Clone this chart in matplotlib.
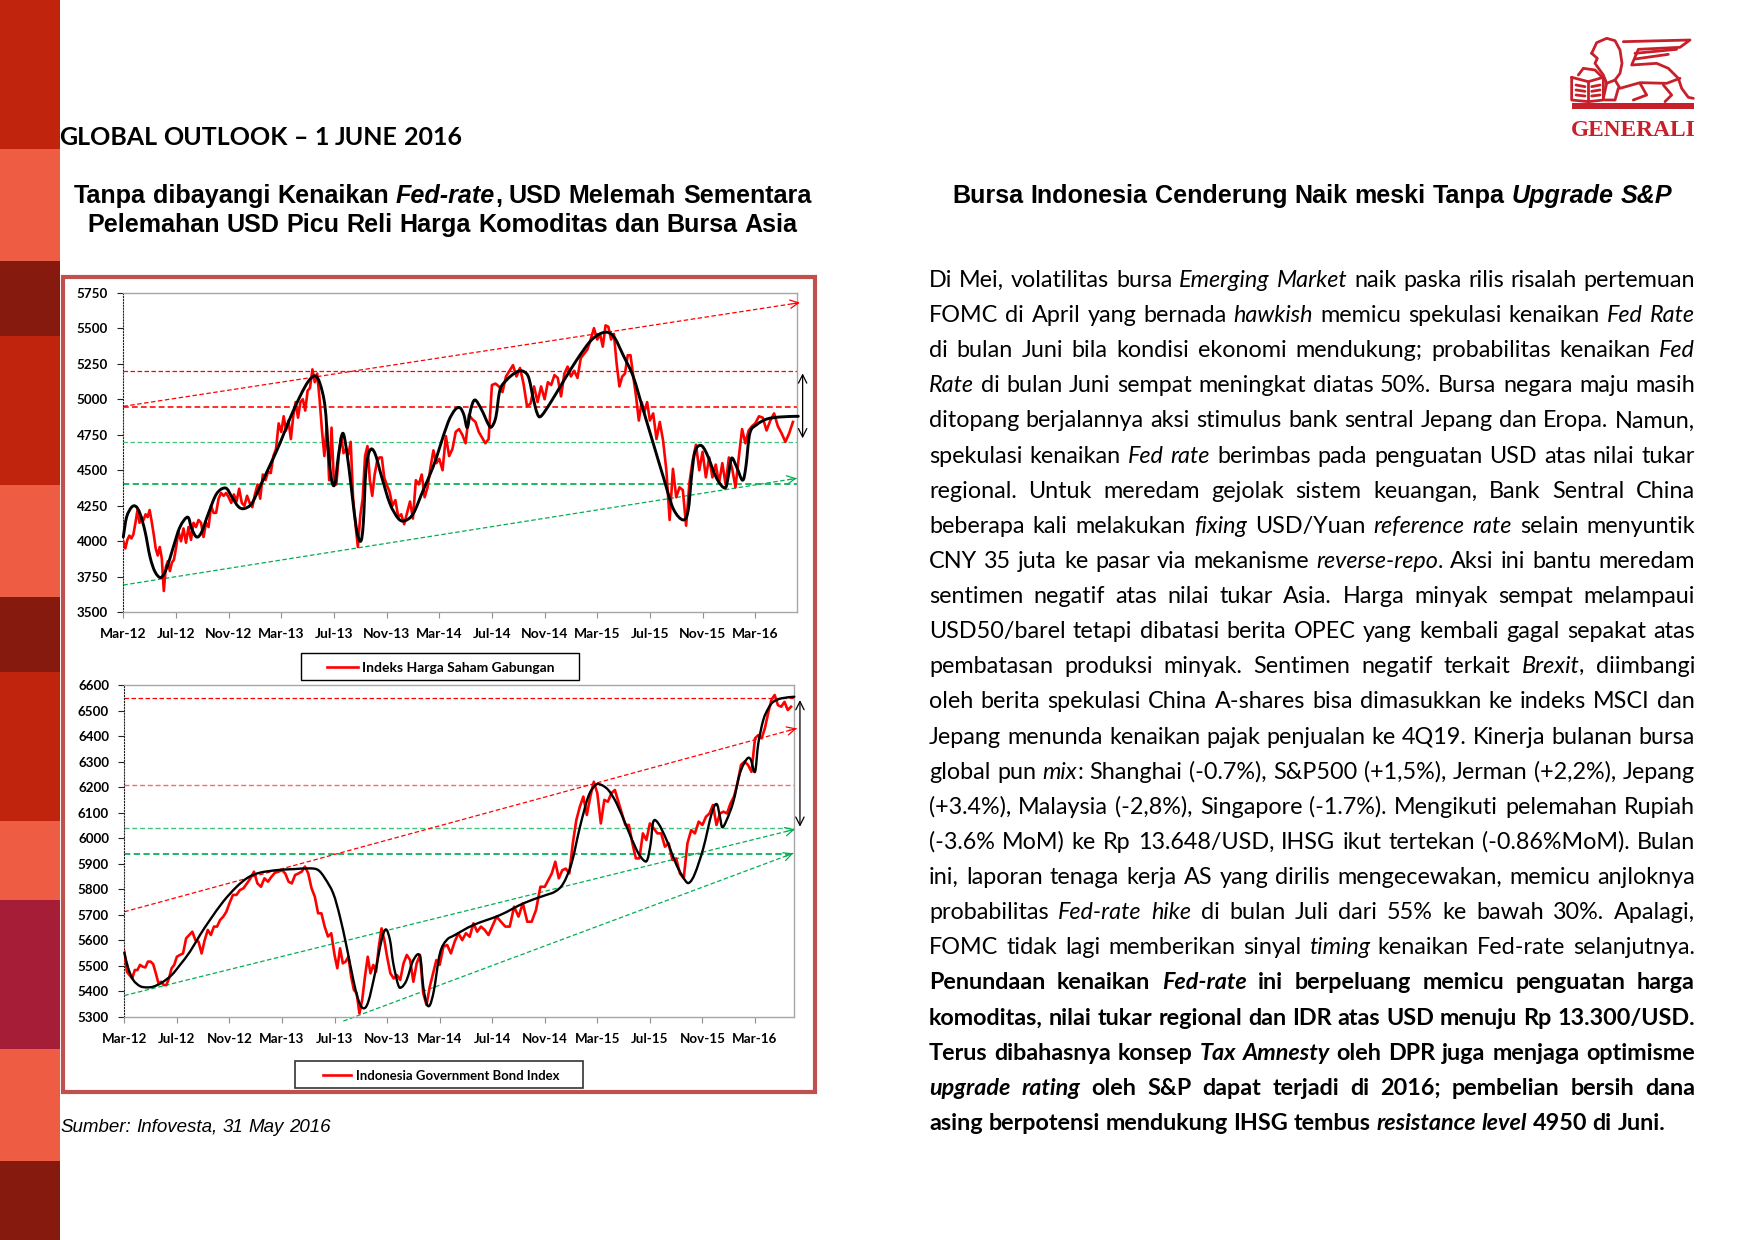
import numpy as np
import pandas as pd
import matplotlib
matplotlib.use('Agg')
import matplotlib.pyplot as plt
import matplotlib.dates as mdates
from matplotlib.font_manager import FontProperties
from matplotlib.patches import Rectangle, PathPatch, Polygon
from matplotlib.path import Path

# ---------- data ----------
tick_months = list(range(0, 49, 4))
tick_labels = ['Mar-12', 'Jul-12', 'Nov-12', 'Mar-13', 'Jul-13', 'Nov-13', 'Mar-14', 'Jul-14', 'Nov-14', 'Mar-15', 'Jul-15', 'Nov-15', 'Mar-16']
end_months_ihsg = 51.15
end_months_bond = 50.99

# red series, one list per 4 month tick interval
ihsg_segments = [
    [4000, 3950, 4010, 4040, 4020, 4050, 4130, 4220, 4130, 4170, 4150, 4190, 4170, 4220, 4140, 4050, 3950, 3900, 3960, 3880, 3650, 3820, 3860, 3790, 3850, 3870],
    [3950, 4070, 4000, 4090, 3990, 4100, 4010, 4130, 4100, 4150, 4130, 4030, 4130, 4100, 4250, 4200, 4200, 4300, 4340, 4320, 4340],
    [4310, 4270, 4330, 4280, 4370, 4270, 4250, 4320, 4270, 4240, 4330, 4400, 4300, 4470, 4430, 4490, 4480, 4600, 4650, 4830],
    [4770, 4880, 4780, 4850, 4720, 4880, 4980, 4870, 4980, 5000, 4920, 5060, 5080, 5210, 5120, 5180, 5000, 4780, 4600, 4820, 4430, 4800],
    [4410, 4400, 4600, 4740, 4620, 4650, 4610, 4700, 4300, 4120, 3960, 4180, 4300, 4600, 4670, 4430, 4320, 4470, 4560, 4590, 4590, 4450],
    [4400, 4350, 4250, 4290, 4170, 4190, 4120, 4200, 4280, 4160, 4430, 4400, 4470, 4310, 4380, 4520, 4640, 4550],
    [4580, 4500, 4740, 4600, 4650, 4770, 4790, 4750, 4690, 4890, 4860, 4840, 4770, 4730, 4690, 4720],
    [5100, 5110, 5090, 5050, 5160, 5200, 5240, 5160, 5220, 5110, 4950, 4970, 5090, 4980, 5090],
    [5000, 5120, 5100, 5170, 5150, 5020, 5180, 5230, 5160, 5200, 5150, 5290, 5320, 5350, 5420, 5500],
    [5420, 5460, 5370, 5520, 5510, 5420, 5460, 5250, 5090, 5160, 5180, 5310, 5310, 5160, 5020, 4850, 4980, 4910, 4980],
    [4850, 4900, 4720, 4840, 4710, 4500, 4150, 4510, 4310, 4380, 4360, 4110, 4410, 4570, 4680, 4500],
    [4630, 4450, 4590, 4450, 4540, 4410, 4550, 4400, 4590, 4510, 4380, 4590, 4790, 4690, 4780, 4810],
    [4830, 4880, 4870, 4780, 4850, 4900, 4810, 4760, 4700, 4760, 4840],
]
bond_segments = [
    [5556, 5477, 5464, 5451, 5484, 5484, 5504, 5497, 5494, 5517, 5517, 5507, 5471, 5432, 5438, 5425, 5425, 5451, 5491, 5504],
    [5536, 5543, 5549, 5608, 5621, 5634, 5601, 5595, 5549, 5601, 5641, 5621, 5654, 5654, 5680, 5693, 5712],
    [5745, 5778, 5778, 5797, 5804, 5823, 5843, 5869, 5823, 5810, 5843, 5830, 5849, 5865, 5869],
    [5875, 5862, 5830, 5823, 5856, 5862, 5869, 5889, 5862, 5804, 5771, 5706, 5706, 5654, 5615, 5628],
    [5543, 5491, 5569, 5510, 5517, 5536, 5458, 5406, 5393, 5314, 5367, 5458, 5536, 5471, 5504, 5477, 5575, 5647, 5601],
    [5536, 5471, 5451, 5464, 5445, 5510, 5543, 5523, 5438, 5510, 5543, 5393, 5347, 5419, 5471, 5523],
    [5504, 5575, 5582, 5549, 5595, 5628, 5601, 5628, 5614, 5667, 5634, 5654, 5641, 5621],
    [5654, 5693, 5673, 5654, 5654, 5732, 5693, 5745, 5673, 5673, 5719, 5810],
    [5810, 5836, 5862, 5908, 5843, 5875, 5881, 5862, 5980, 6071, 6123, 6163, 6091, 6163, 6221],
    [6176, 6058, 6150, 6143, 6176, 6189, 6143, 6097, 6052, 6052, 5980, 5921, 5921, 6019, 5993],
    [6058, 6039, 6019, 6019, 5967, 5980, 5915, 5921, 5862, 5843, 5980, 6032, 6019, 6065],
    [6052, 6084, 6097, 6130, 6052, 6097, 6104, 6097, 6136, 6163, 6215, 6287, 6300, 6287, 6260],
    [6391, 6404, 6391, 6430, 6489, 6541, 6561, 6521, 6515, 6534, 6502, 6515],
]

# black hand drawn trend curves
ihsg_trend_m = [0, .25, .63, .96, 1.27, 1.65, 2.03, 2.41, 2.86, 3.29, 3.8, 4.3, 4.89, 5.19, 5.57, 5.95, 6.46, 7.09, 7.77, 8.23, 8.73, 9.16, 9.75, 10.38, 11.14, 11.9, 12.66, 13.42, 14.05, 14.56, 14.94, 15.32, 15.57, 15.82, 16.08, 16.33, 16.66, 16.96, 17.34, 17.72, 18.03, 18.23, 18.43, 18.73, 19.11, 19.62, 20.25, 20.89, 21.39, 22.03, 22.78, 23.54,
                24.05, 24.68, 25.19, 25.57, 25.87, 26.13, 26.38, 26.71, 27.22, 27.72, 27.97, 28.3, 28.61, 29.11, 29.75, 30.25, 30.76, 31.14, 31.44, 31.72, 32.41, 33.42, 34.43, 35.44, 36.2, 36.84, 37.34, 37.97, 38.73, 39.49, 40.25, 41.01, 41.77, 42.53, 42.91, 43.16, 43.42, 43.85, 44.3, 45.06, 45.7, 45.95, 46.2, 46.58, 47.04, 47.29, 47.59, 48.1, 48.86, 49.87, 51.27]
ihsg_trend_v = [4030, 4170, 4240, 4245, 4195, 4070, 3890, 3785, 3745, 3810, 3960, 4100, 4170, 4090, 4030, 4065, 4195, 4335, 4375, 4315, 4245, 4230, 4265, 4385, 4535, 4690, 4865, 5020, 5125, 5165, 5110, 4950, 4640, 4430, 4405, 4595, 4760, 4640, 4360, 4080, 4000, 4125, 4500, 4640, 4620, 4455, 4265, 4160, 4145, 4195, 4360, 4525,
                4666, 4840, 4925, 4940, 4890, 4800, 4925, 4995, 4925, 4825, 4805, 4875, 5065, 5135, 5185, 5200, 5160, 5005, 4900, 4880, 4970, 5125, 5275, 5405, 5460, 5470, 5430, 5310, 5160, 4925, 4690, 4455, 4230, 4150, 4220, 4455, 4630, 4675, 4620, 4445, 4375, 4455, 4585, 4525, 4430, 4525, 4760, 4820, 4860, 4875, 4880]
bond_trend_m = [0, .3, .68, 1.19, 1.7, 2.21, 2.84, 3.6, 4.24, 5.0, 5.76, 6.52, 7.53, 8.55, 9.44, 10.32, 11.6, 12.86, 14.13, 14.76, 15.27, 15.9, 16.41, 16.92, 17.43, 17.81, 18.19, 18.57, 19.08, 19.58, 19.91, 20.22, 20.47, 20.85, 21.11, 21.49, 22.0, 22.5, 22.75, 23.01, 23.26, 23.57, 24.02,
                24.53, 25.16, 26.56, 28.59, 30.37, 31.89, 32.78, 33.41, 34.04, 34.68, 35.31, 35.82, 36.2, 36.83, 37.47, 38.23, 38.99, 39.5, 39.8, 40.06, 40.26, 40.64, 41.27, 42.03, 42.67, 43.0, 43.43, 44.06, 44.7, 45.08, 45.33, 45.51, 45.84, 46.35, 46.85, 47.36, 47.67, 48.0, 48.25, 48.63, 49.01, 49.39, 50.03, 50.99]
bond_trend_v = [5552, 5491, 5445, 5421, 5416, 5419, 5434, 5464, 5504, 5556, 5621, 5680, 5752, 5810, 5847, 5865, 5875, 5879, 5882, 5875, 5843, 5784, 5693, 5575, 5445, 5367, 5334, 5360, 5471, 5601, 5643, 5601, 5510, 5425, 5417, 5445, 5523, 5539, 5419, 5353, 5347, 5406, 5549,
                5601, 5621, 5660, 5699, 5745, 5774, 5791, 5823, 5902, 6045, 6163, 6206, 6211, 6189, 6136, 6045, 5954, 5915, 5915, 5980, 6065, 6058, 5993, 5895, 5836, 5826, 5862, 5960, 6097, 6134, 6084, 6043, 6071, 6143, 6254, 6309, 6309, 6260, 6371, 6463, 6508, 6534, 6548, 6554]

# support / resistance levels: value, colour, line width, alpha
ihsg_levels = [(5196, '#FF0000', 0.9, 1), (4945, '#FF0000', 1.15, 1), (4700, '#00B050', 0.9, .75), (4400, '#00B050', 1.25, 1)]
bond_levels = [(6551, '#FF0000', 0.9, 1), (6208, '#FF0000', 1.0, .6), (6040, '#00B050', 1.0, .75), (5939, '#00B050', 1.25, 1)]
# channel lines: start month, start value, end month, end value, colour
ihsg_channels = [(0, 4950, 51.39, 5680, '#FF0000'), (0, 3692, 51.15, 4443, '#00B050')]
bond_channels = [(0, 5712, 51.17, 6430, '#FF0000'), (0, 5384, 51.04, 6035, '#00B050'), (16.67, 5284, 50.91, 5941, '#00B050')]
# black range arrow: month, low, high
ihsg_range = (51.6, 4725, 5182)
bond_range = (51.42, 6045, 6541)

ihsg_ticks = list(range(3500, 5751, 250))
bond_ticks = list(range(5300, 6601, 100))

sidebar_edges = [0, 149, 261, 336, 485, 597, 672, 821, 900, 1049, 1161, 1240]
sidebar_colors = ['#C0240C', '#EE5C44', '#861A0F', '#C0240C', '#EE5C44', '#861A0F', '#C0240C', '#EE5C44', '#A51D36', '#EE5C44', '#861A0F']

body_lines = [
    "Di Mei, volatilitas bursa *Emerging Market* naik paska rilis risalah pertemuan",
    "FOMC di April yang bernada *hawkish* memicu spekulasi kenaikan *Fed Rate*",
    "di bulan Juni bila kondisi ekonomi mendukung; probabilitas kenaikan *Fed*",
    "*Rate* di bulan Juni sempat meningkat diatas 50%. Bursa negara maju masih",
    "ditopang berjalannya aksi stimulus bank sentral Jepang dan Eropa. Namun,",
    "spekulasi kenaikan *Fed rate* berimbas pada penguatan USD atas nilai tukar",
    "regional. Untuk meredam gejolak sistem keuangan, Bank Sentral China",
    "beberapa kali melakukan *fixing* USD/Yuan *reference rate* selain menyuntik",
    "CNY 35 juta ke pasar via mekanisme *reverse-repo*. Aksi ini bantu meredam",
    "sentimen negatif atas nilai tukar Asia. Harga minyak sempat melampaui",
    "USD50/barel tetapi dibatasi berita OPEC yang kembali gagal sepakat atas",
    "pembatasan produksi minyak. Sentimen negatif terkait *Brexit*, diimbangi",
    "oleh berita spekulasi China A-shares bisa dimasukkan ke indeks MSCI dan",
    "Jepang menunda kenaikan pajak penjualan ke 4Q19. Kinerja bulanan bursa",
    "global pun *mix*: Shanghai (-0.7%), S&P500 (+1,5%), Jerman (+2,2%), Jepang",
    "(+3.4%), Malaysia (-2,8%), Singapore (-1.7%). Mengikuti pelemahan Rupiah",
    "(-3.6% MoM) ke Rp 13.648/USD, IHSG ikut tertekan (-0.86%MoM). Bulan",
    "ini, laporan tenaga kerja AS yang dirilis mengecewakan, memicu anjloknya",
    "probabilitas *Fed-rate hike* di bulan Juli dari 55% ke bawah 30%. Apalagi,",
    "FOMC tidak lagi memberikan sinyal *timing* kenaikan Fed-rate selanjutnya.",
    "Penundaan kenaikan *Fed-rate* ini berpeluang memicu penguatan harga",
    "komoditas, nilai tukar regional dan IDR atas USD menuju Rp 13.300/USD.",
    "Terus dibahasnya konsep *Tax Amnesty* oleh DPR juga menjaga optimisme",
    "*upgrade rating* oleh S&P dapat terjadi di 2016; pembelian bersih dana",
    "asing berpotensi mendukung IHSG tembus *resistance level* 4950 di Juni.",
]
first_bold_line = 20


# ---------- helpers ----------
def to_dates(months):
    return pd.Timestamp('2012-03-01') + pd.to_timedelta(np.asarray(months, dtype=float) * 30.4375, unit='D')


def num(months):
    return mdates.date2num(to_dates(months))


def parse_words(line):
    # returns words, each one a list of (text, italic)
    words, italic = [], False
    for raw in line.split(' '):
        runs = []
        for i, part in enumerate(raw.split('*')):
            if i > 0:
                italic = not italic
            if part:
                runs.append((part, italic))
        words.append(runs)
    return words


def text_width(s, family, size, weight, italic):
    fp = FontProperties(family=family, size=size, weight=weight, style='italic' if italic else 'normal')
    return renderer.get_text_width_height_descent(s, fp, False)[0]


def draw_line(line, x0, x1, y, family, size, weight, mode='left'):
    words = parse_words(line)
    widths = [sum(text_width(t, family, size, weight, it) for t, it in w) for w in words]
    space = text_width('n n', family, size, weight, False) - text_width('nn', family, size, weight, False)
    total = sum(widths) + space * (len(words) - 1)
    x = x0
    if mode == 'justify':
        space = (x1 - x0 - sum(widths)) / (len(words) - 1)
    elif mode == 'center':
        x = (x0 + x1 - total) / 2
    for w, wd in zip(words, widths):
        cx = x
        for t, it in w:
            page.text(cx, y, t, family=family, fontsize=size, fontweight=weight,
                      style='italic' if it else 'normal', va='baseline', ha='left', color='black')
            cx += text_width(t, family, size, weight, it)
        x += wd + space


def smooth_curve(ax, months, values, lw):
    # smoothed line through the points, like a spreadsheet smoothed series
    x, y = num(months), np.asarray(values, dtype=float)
    verts, codes = [(x[0], y[0])], [Path.MOVETO]
    for i in range(len(x) - 1):
        a, b = max(i - 1, 0), min(i + 2, len(x) - 1)
        verts += [(x[i] + (x[i + 1] - x[a]) / 6, y[i] + (y[i + 1] - y[a]) / 6),
                  (x[i + 1] - (x[b] - x[i]) / 6, y[i + 1] - (y[b] - y[i]) / 6),
                  (x[i + 1], y[i + 1])]
        codes += [Path.CURVE4] * 3
    ax.add_patch(PathPatch(Path(verts, codes), fill=False, ec='black', lw=lw, capstyle='round',
                           joinstyle='round', zorder=5, clip_on=False))


def draw_chart(box, ylim, yticks, segments, end_m, trend_m, trend_v, levels, channels, rng, name, trend_lw, xsize):
    left, top, right, bottom = box
    ax = fig.add_axes([left / W, 1 - bottom / H, (right - left) / W, (bottom - top) / H], facecolor='none')

    # red series
    edges = tick_months + [end_m]
    xs, ys = [], []
    for i, seg in enumerate(segments):
        xs += list(np.linspace(edges[i], edges[i + 1], len(seg), endpoint=False))
        ys += seg
    ax.plot(to_dates(xs), ys, color='#FF0000', lw=1.9, zorder=3, label=name, solid_joinstyle='round')

    for v, c, lw, al in levels:
        ax.plot(to_dates([0, end_m]), [v, v], color=c, lw=lw, alpha=al, ls=(0, (3.6, 2.0)), zorder=2)

    for m0, v0, m1, v1, c in channels:
        ax.plot(to_dates([m0, m1]), [v0, v1], color=c, lw=0.9, ls=(0, (3.6, 2.0)), zorder=2, clip_on=False)
        ax.annotate('', xy=(to_dates([m1])[0], v1),
                    xytext=(to_dates([m1 - 0.6])[0], v1 - 0.6 * (v1 - v0) / (m1 - m0)),
                    arrowprops=dict(arrowstyle='->', color=c, lw=0.9, mutation_scale=15, shrinkA=0, shrinkB=0),
                    annotation_clip=False)

    smooth_curve(ax, trend_m, trend_v, trend_lw)

    ax.annotate('', xy=(to_dates([rng[0]])[0], rng[2]), xytext=(to_dates([rng[0]])[0], rng[1]),
                arrowprops=dict(arrowstyle='<->', color='black', lw=0.9, mutation_scale=15, shrinkA=0, shrinkB=0),
                annotation_clip=False)

    ax.set_xlim(to_dates([0])[0], to_dates([end_m])[0])
    ax.set_ylim(*ylim)
    ax.set_yticks(yticks)
    ax.set_xticks(to_dates(tick_months))
    ax.set_xticklabels(tick_labels)

    for s in ['top', 'right', 'bottom']:
        ax.spines[s].set_color('#A6A6A6')
        ax.spines[s].set_linewidth(1.0)
    ax.spines['left'].set_color('#222222')
    ax.spines['left'].set_linewidth(0.8)
    ax.spines['left'].set_linestyle(':')
    ax.tick_params(axis='x', direction='out', length=4, width=0.8, color='#909090', pad=7.2)
    ax.tick_params(axis='y', direction='out', length=4, width=0.8, color='#222222', pad=7)
    for t in ax.get_xticklabels():
        t.set_family('Lato')
        t.set_fontweight('bold')
        t.set_fontsize(xsize)
    for t in ax.get_yticklabels():
        t.set_family('Lato')
        t.set_fontweight('bold')
        t.set_fontsize(9.6)
    return ax


# ---------- page ----------
W, H = 1755, 1240
fig = plt.figure(figsize=(W / 100, H / 100), dpi=100, facecolor='white')
renderer = fig.canvas.get_renderer()
page = fig.add_axes([0, 0, 1, 1])
page.set_xlim(0, W)
page.set_ylim(H, 0)
page.axis('off')

for i, c in enumerate(sidebar_colors):
    page.add_patch(Rectangle((0, sidebar_edges[i]), 60.5, sidebar_edges[i + 1] - sidebar_edges[i], fc=c, ec='none'))

page.add_patch(Rectangle((63, 276.5), 752, 815.5, fc='white', ec='#C0504D', lw=3.0))

draw_line("GLOBAL OUTLOOK – 1 JUNE 2016", 59, 460, 145, 'Lato', 18, 'bold')
draw_line("Tanpa dibayangi Kenaikan *Fed-rate*, USD Melemah Sementara", 60, 825, 203, 'Liberation Sans', 18.05, 'bold', 'center')
draw_line("Pelemahan USD Picu Reli Harga Komoditas dan Bursa Asia", 60, 825, 232, 'Liberation Sans', 18.05, 'bold', 'center')
draw_line("Bursa Indonesia Cenderung Naik meski Tanpa *Upgrade S&P*", 930, 1695, 203, 'Liberation Sans', 18.05, 'bold', 'center')
draw_line("*Sumber: Infovesta, 31 May 2016*", 60, 500, 1132, 'Liberation Sans', 13.5, 'normal')

for i, line in enumerate(body_lines):
    mode = 'left' if i == len(body_lines) - 1 else 'justify'
    weight = 'bold' if i >= first_bold_line else 'normal'
    draw_line(line, 929, 1695, 287 + i * 35.12, 'Lato', 16.8, weight, mode)

# ---------- charts ----------
ax1 = draw_chart((123.3, 292.7, 796.7, 612.3), (3500, 5750), ihsg_ticks, ihsg_segments, end_months_ihsg,
                 ihsg_trend_m, ihsg_trend_v, ihsg_levels, ihsg_channels, ihsg_range,
                 'Indeks Harga Saham Gabungan', 2.1, 10)
ax2 = draw_chart((124.3, 685, 794.3, 1017), (5300, 6600), bond_ticks, bond_segments, end_months_bond,
                 bond_trend_m, bond_trend_v, bond_levels, bond_channels, bond_range,
                 'Indonesia Government Bond Index', 1.7, 9.6)

# legends sit in their own boxes below each chart
page.add_patch(Rectangle((300.7, 653), 278.3, 27, fc='white', ec='black', lw=1.0))
page.add_patch(Rectangle((295, 1061), 288.3, 26.7, fc='white', ec='#333333', lw=1.2))
for ax, cx, cy, size in [(ax1, 441, 667.5, 10), (ax2, 441, 1075.5, 9.45)]:
    ax.legend(loc='center', bbox_to_anchor=(cx, cy), bbox_transform=page.transData, frameon=False,
              handlelength=2.2, handletextpad=0.35, borderpad=0,
              prop=FontProperties(family='Lato', weight='bold', size=size))

# ---------- logo ----------
LOGO_RED = '#C8202A'


def logo_xy(pts):
    return [(1540 + x / 3, 20 + y / 3) for x, y in pts]


logo_lines = [
    [(155, 100), (170, 68), (200, 55), (225, 62), (240, 90), (246, 130), (240, 160), (225, 180), (200, 190), (190, 165), (165, 130), (172, 115), (155, 100)],
    [(250, 65), (450, 60), (420, 82), (295, 88), (275, 135), (350, 130), (385, 145), (415, 175), (425, 205), (445, 232), (460, 235)],
    [(285, 100), (410, 88)], [(285, 117), (385, 103)],
    [(225, 180), (240, 205), (300, 188), (380, 190), (420, 175)],
    [(235, 205), (225, 240), (195, 240)], [(300, 190), (320, 225), (280, 240)],
    [(370, 195), (395, 225), (375, 245)], [(200, 190), (190, 235)],
    [(115, 165), (130, 145), (165, 150), (190, 175)],
    [(95, 172), (145, 185), (190, 172), (190, 240), (145, 245), (95, 240), (95, 172)],
    [(145, 185), (145, 245)], [(108, 195), (135, 200)], [(108, 210), (135, 214)], [(108, 225), (135, 228)],
    [(155, 200), (180, 195)], [(155, 214), (180, 210)], [(155, 228), (180, 225)],
]
for pts in logo_lines:
    xy = np.array(logo_xy(pts))
    page.plot(xy[:, 0], xy[:, 1], color=LOGO_RED, lw=2.0, solid_capstyle='round')
page.add_patch(Polygon(logo_xy([(95, 250), (463, 250), (463, 266), (95, 266)]), fc=LOGO_RED, ec='none'))
page.text(1633, 136, 'GENERALI', family='Liberation Serif', fontsize=16.8, fontweight='bold', color=LOGO_RED, ha='center', va='baseline')

fig.savefig('out.png', dpi=100, facecolor='white')
